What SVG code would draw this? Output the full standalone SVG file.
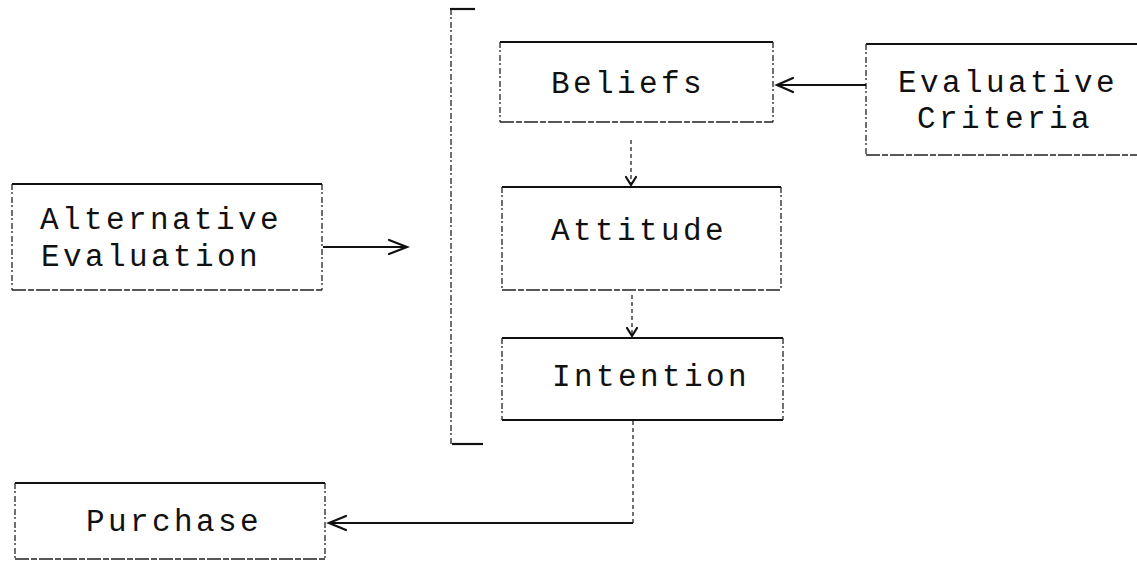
<svg xmlns="http://www.w3.org/2000/svg" width="1137" height="561" viewBox="0 0 1137 561">
  <style>
    .edge { fill: none; stroke: #111; stroke-width: 1.2; stroke-dasharray: 6 2 2 3; }
    .top { fill: none; stroke: #111; stroke-width: 2.2; }
    .base { fill: none; stroke: #222; stroke-width: 1.5; stroke-dasharray: 14 2 6 2; }
    .label { font-family: "Liberation Mono", "DejaVu Sans Mono", monospace; font-size: 31px; letter-spacing: 3.4px; fill: #111; }
    .mid { text-anchor: middle; }
    .solid { fill: none; stroke: #111; stroke-width: 1.8; }
    .dash { fill: none; stroke: #111; stroke-width: 1.2; stroke-dasharray: 4 3; }
    .head { fill: none; stroke: #111; stroke-width: 2.2; stroke-linejoin: miter; stroke-linecap: round; }
  </style>
  <rect width="1137" height="561" fill="#fff"/>

  <!-- bracket grouping the three stages -->
  <g id="bracket">
    <path class="top" d="M475,9 H450"/>
    <path class="edge" d="M451,9 V444"/>
    <path class="top" d="M452,444 H483"/>
  </g>

  <g id="beliefs">
    <path class="edge" d="M500,42 V122 M773,42 V122"/>
    <path class="top" d="M500,42 H773"/>
    <path class="base" d="M500,122 H773"/>
    <text class="label mid" x="628" y="93">Beliefs</text>
  </g>

  <g id="evaluative-criteria">
    <path class="edge" d="M866,44 V155"/>
    <path class="top" d="M866,44 H1140"/>
    <path class="base" d="M866,155 H1140"/>
    <text class="label mid" x="1008" y="92">Evaluative</text>
    <text class="label mid" x="1005" y="128">Criteria</text>
  </g>

  <g id="alternative-evaluation">
    <path class="edge" d="M12,184 V290 M322,184 V290"/>
    <path class="top" d="M12,184 H322"/>
    <path class="base" d="M12,290 H322"/>
    <text class="label" x="40" y="229">Alternative</text>
    <text class="label" x="41" y="266">Evaluation</text>
  </g>

  <g id="attitude">
    <path class="edge" d="M502,187 V290 M781,187 V290"/>
    <path class="top" d="M502,187 H781"/>
    <path class="base" d="M502,290 H781"/>
    <text class="label mid" x="639" y="240">Attitude</text>
  </g>

  <g id="intention">
    <path class="edge" d="M502,338 V420 M783,338 V420"/>
    <path class="top" d="M502,338 H783"/>
    <path class="top" d="M502,420 H783" stroke-width="1.8"/>
    <text class="label mid" x="651" y="386">Intention</text>
  </g>

  <g id="purchase">
    <path class="edge" d="M15,483 V559 M325,483 V559"/>
    <path class="top" d="M15,483 H325"/>
    <path class="base" d="M15,559 H325"/>
    <text class="label mid" x="174" y="531">Purchase</text>
  </g>

  <g id="connectors">
    <!-- evaluative criteria to beliefs -->
    <path class="solid" d="M866,85 H777"/>
    <path class="head" d="M793,78 L777,85 L793,92"/>
    <!-- alternative evaluation into the bracket -->
    <path class="solid" d="M323,247 H405"/>
    <path class="head" d="M389,240 L407,247 L389,254"/>
    <!-- beliefs to attitude -->
    <path class="dash" d="M631,140 V184"/>
    <path class="head" d="M626,177 L631,185 L636,177" stroke-width="1.8"/>
    <!-- attitude to intention -->
    <path class="dash" d="M632,295 V335"/>
    <path class="head" d="M627,328 L632,336 L637,328" stroke-width="1.8"/>
    <!-- intention to purchase -->
    <path class="dash" d="M633,421 V523"/>
    <path class="solid" d="M633,523 H330"/>
    <path class="head" d="M346,516 L329,523 L346,530"/>
  </g>
</svg>
